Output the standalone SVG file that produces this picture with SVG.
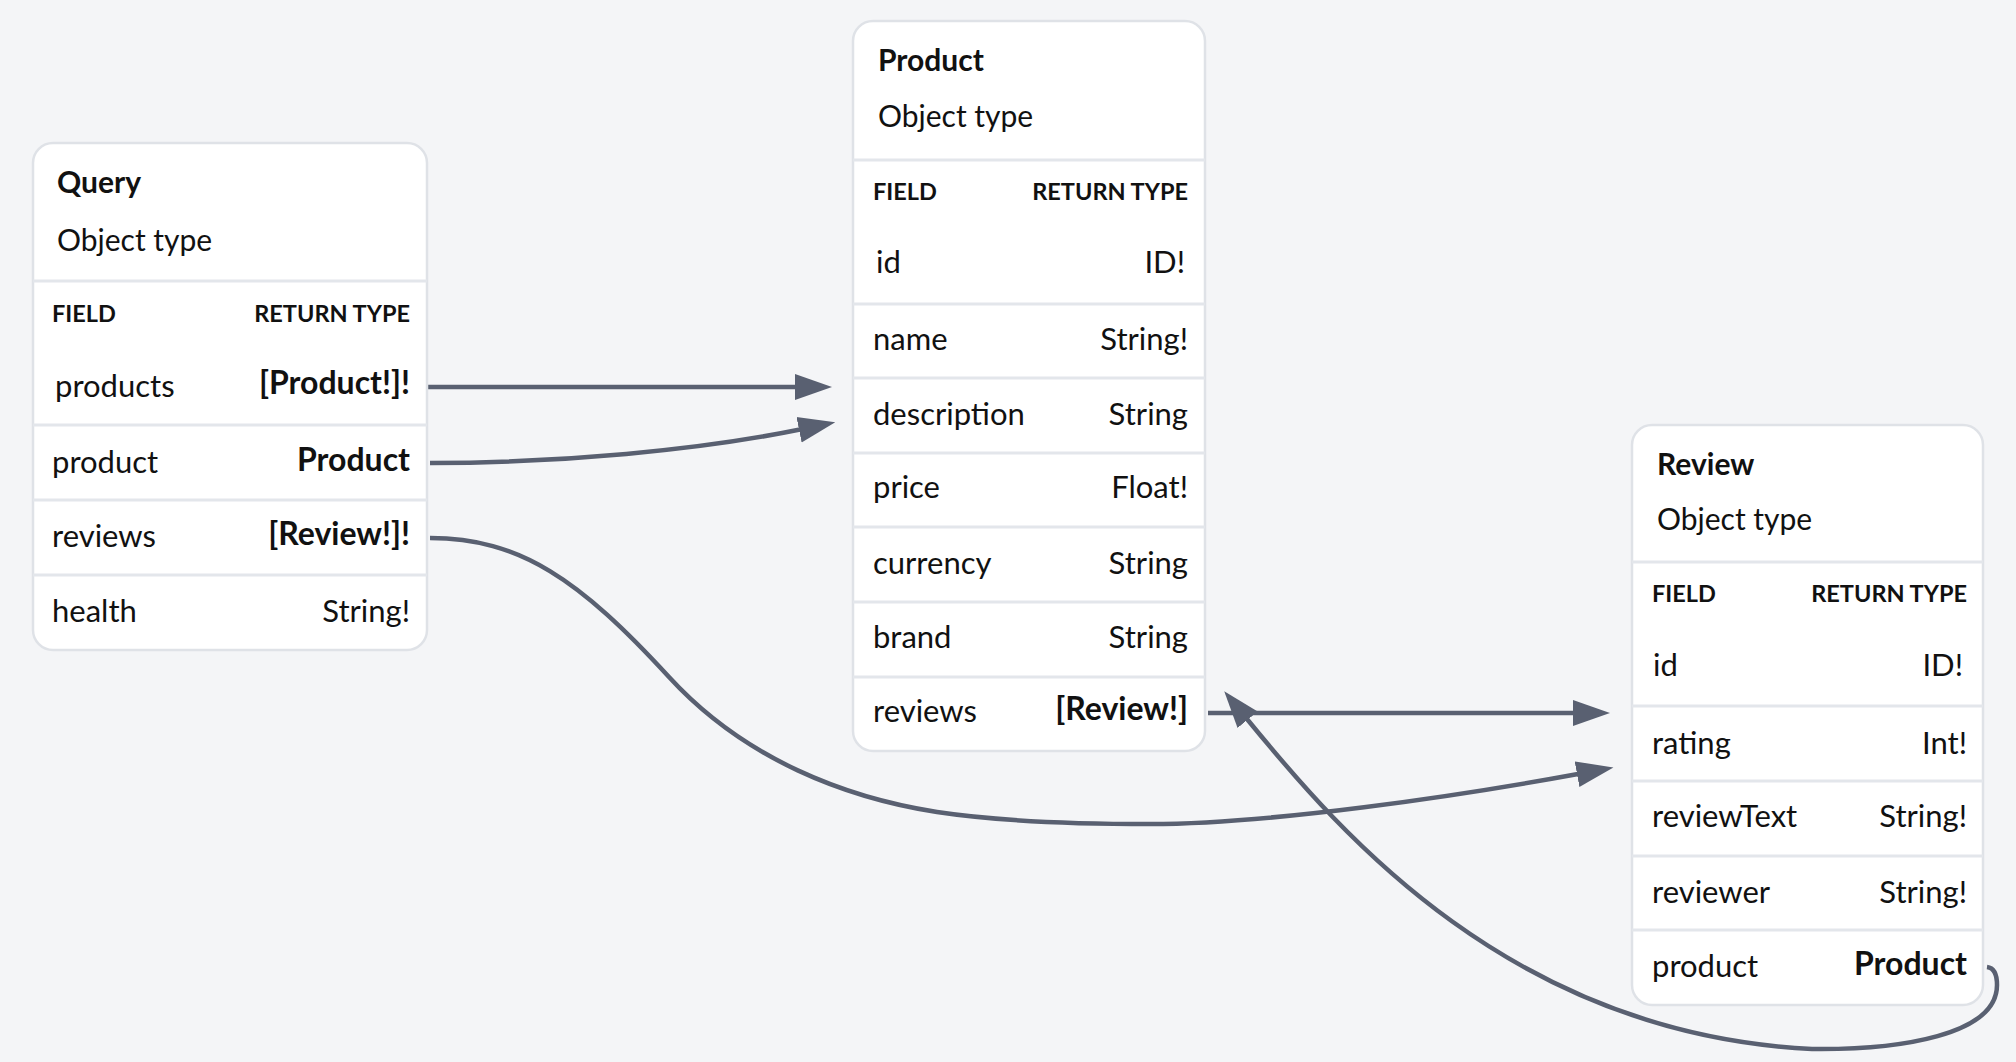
<svg xmlns="http://www.w3.org/2000/svg" width="2016" height="1062" viewBox="0 0 2016 1062">
<defs>
<style>
.bg{fill:#f4f5f7}
.box{fill:#ffffff;stroke:#dfe2e7;stroke-width:2.5}
.div{stroke:#e3e6eb;stroke-width:3}
text{font-family:Lato,"Liberation Sans",sans-serif;fill:#111111}
.title{font-size:30px;font-weight:700}
.sub{font-size:30px;font-weight:400}
.hdr{font-size:23.5px;font-weight:700}
.f{font-size:31px;font-weight:400}
.tb{font-size:32px;font-weight:700;text-anchor:end}
.tr{font-size:31px;font-weight:400;text-anchor:end}
.he{text-anchor:end}
.edge{fill:none;stroke:#596071;stroke-width:4.5}
</style>
<marker id="arrow" markerUnits="userSpaceOnUse" markerWidth="38" markerHeight="28" viewBox="0 0 38 28" refX="1" refY="14" orient="auto">
<path d="M0,1 L37,14 L0,27 z" fill="#596071"/>
</marker>
</defs>
<rect class="bg" x="0" y="0" width="2016" height="1062"/>

<g id="connectors">
<path id="e-query-products" class="edge" d="M427,387 L796,387" marker-end="url(#arrow)"/>
<path id="e-query-product" class="edge" d="M430,463 C560,463 700,450 800,429.5" marker-end="url(#arrow)"/>
<path id="e-query-reviews" class="edge" d="M430,538 C520,538 580,580 669,677 C745,760 847,798 937,812 C1010,823 1090,824 1150,824 C1270,824 1458,796 1578,774" marker-end="url(#arrow)"/>
<path id="e-product-reviews" class="edge" d="M1208,713 L1574,713" marker-end="url(#arrow)"/>
<path id="e-review-product" class="edge" d="M1987,967 C1995,968 1997,975 1997,985 C1997,1035 1900,1050 1812,1049 C1512,1034 1341,834 1247,719" marker-end="url(#arrow)"/>
</g>

<g id="node-query">
<rect class="box" x="33" y="143" width="394" height="507" rx="20"/>
<line class="div" x1="33" y1="281" x2="427" y2="281"/>
<line class="div" x1="33" y1="425" x2="427" y2="425"/>
<line class="div" x1="33" y1="500" x2="427" y2="500"/>
<line class="div" x1="33" y1="575" x2="427" y2="575"/>
<text class="title" x="57" y="193">Query</text>
<text class="sub" x="57" y="251">Object type</text>
<text class="hdr" x="52" y="322">FIELD</text>
<text class="hdr he" x="410" y="322">RETURN TYPE</text>
<text class="f" x="55" y="397">products</text>
<text class="tb" x="410" y="394">[Product!]!</text>
<text class="f" x="52" y="473">product</text>
<text class="tb" x="410" y="471">Product</text>
<text class="f" x="52" y="547">reviews</text>
<text class="tb" x="410" y="545">[Review!]!</text>
<text class="f" x="52" y="622">health</text>
<text class="tr" x="410" y="622">String!</text>
</g>

<g id="node-product">
<rect class="box" x="853" y="21" width="352" height="730" rx="20"/>
<line class="div" x1="853" y1="160" x2="1205" y2="160"/>
<line class="div" x1="853" y1="304" x2="1205" y2="304"/>
<line class="div" x1="853" y1="378" x2="1205" y2="378"/>
<line class="div" x1="853" y1="453" x2="1205" y2="453"/>
<line class="div" x1="853" y1="527" x2="1205" y2="527"/>
<line class="div" x1="853" y1="602" x2="1205" y2="602"/>
<line class="div" x1="853" y1="677" x2="1205" y2="677"/>
<text class="title" x="878" y="71">Product</text>
<text class="sub" x="878" y="127">Object type</text>
<text class="hdr" x="873" y="200">FIELD</text>
<text class="hdr he" x="1188" y="200">RETURN TYPE</text>
<text class="f" x="876" y="273">id</text>
<text class="tr" x="1185" y="273">ID!</text>
<text class="f" x="873" y="350">name</text>
<text class="tr" x="1188" y="350">String!</text>
<text class="f" x="873" y="425">description</text>
<text class="tr" x="1188" y="425">String</text>
<text class="f" x="873" y="498">price</text>
<text class="tr" x="1188" y="498">Float!</text>
<text class="f" x="873" y="574">currency</text>
<text class="tr" x="1188" y="574">String</text>
<text class="f" x="873" y="648">brand</text>
<text class="tr" x="1188" y="648">String</text>
<text class="f" x="873" y="722">reviews</text>
<text class="tb" x="1188" y="720">[Review!]</text>
</g>

<g id="node-review">
<rect class="box" x="1632" y="425" width="351" height="580" rx="20"/>
<line class="div" x1="1632" y1="562" x2="1983" y2="562"/>
<line class="div" x1="1632" y1="706" x2="1983" y2="706"/>
<line class="div" x1="1632" y1="781" x2="1983" y2="781"/>
<line class="div" x1="1632" y1="856" x2="1983" y2="856"/>
<line class="div" x1="1632" y1="930" x2="1983" y2="930"/>
<text class="title" x="1657" y="475">Review</text>
<text class="sub" x="1657" y="530">Object type</text>
<text class="hdr" x="1652" y="602">FIELD</text>
<text class="hdr he" x="1967" y="602">RETURN TYPE</text>
<text class="f" x="1653" y="676">id</text>
<text class="tr" x="1963" y="676">ID!</text>
<text class="f" x="1652" y="754">rating</text>
<text class="tr" x="1967" y="754">Int!</text>
<text class="f" x="1652" y="827">reviewText</text>
<text class="tr" x="1967" y="827">String!</text>
<text class="f" x="1652" y="903">reviewer</text>
<text class="tr" x="1967" y="903">String!</text>
<text class="f" x="1652" y="977">product</text>
<text class="tb" x="1967" y="975">Product</text>
</g>
</svg>
